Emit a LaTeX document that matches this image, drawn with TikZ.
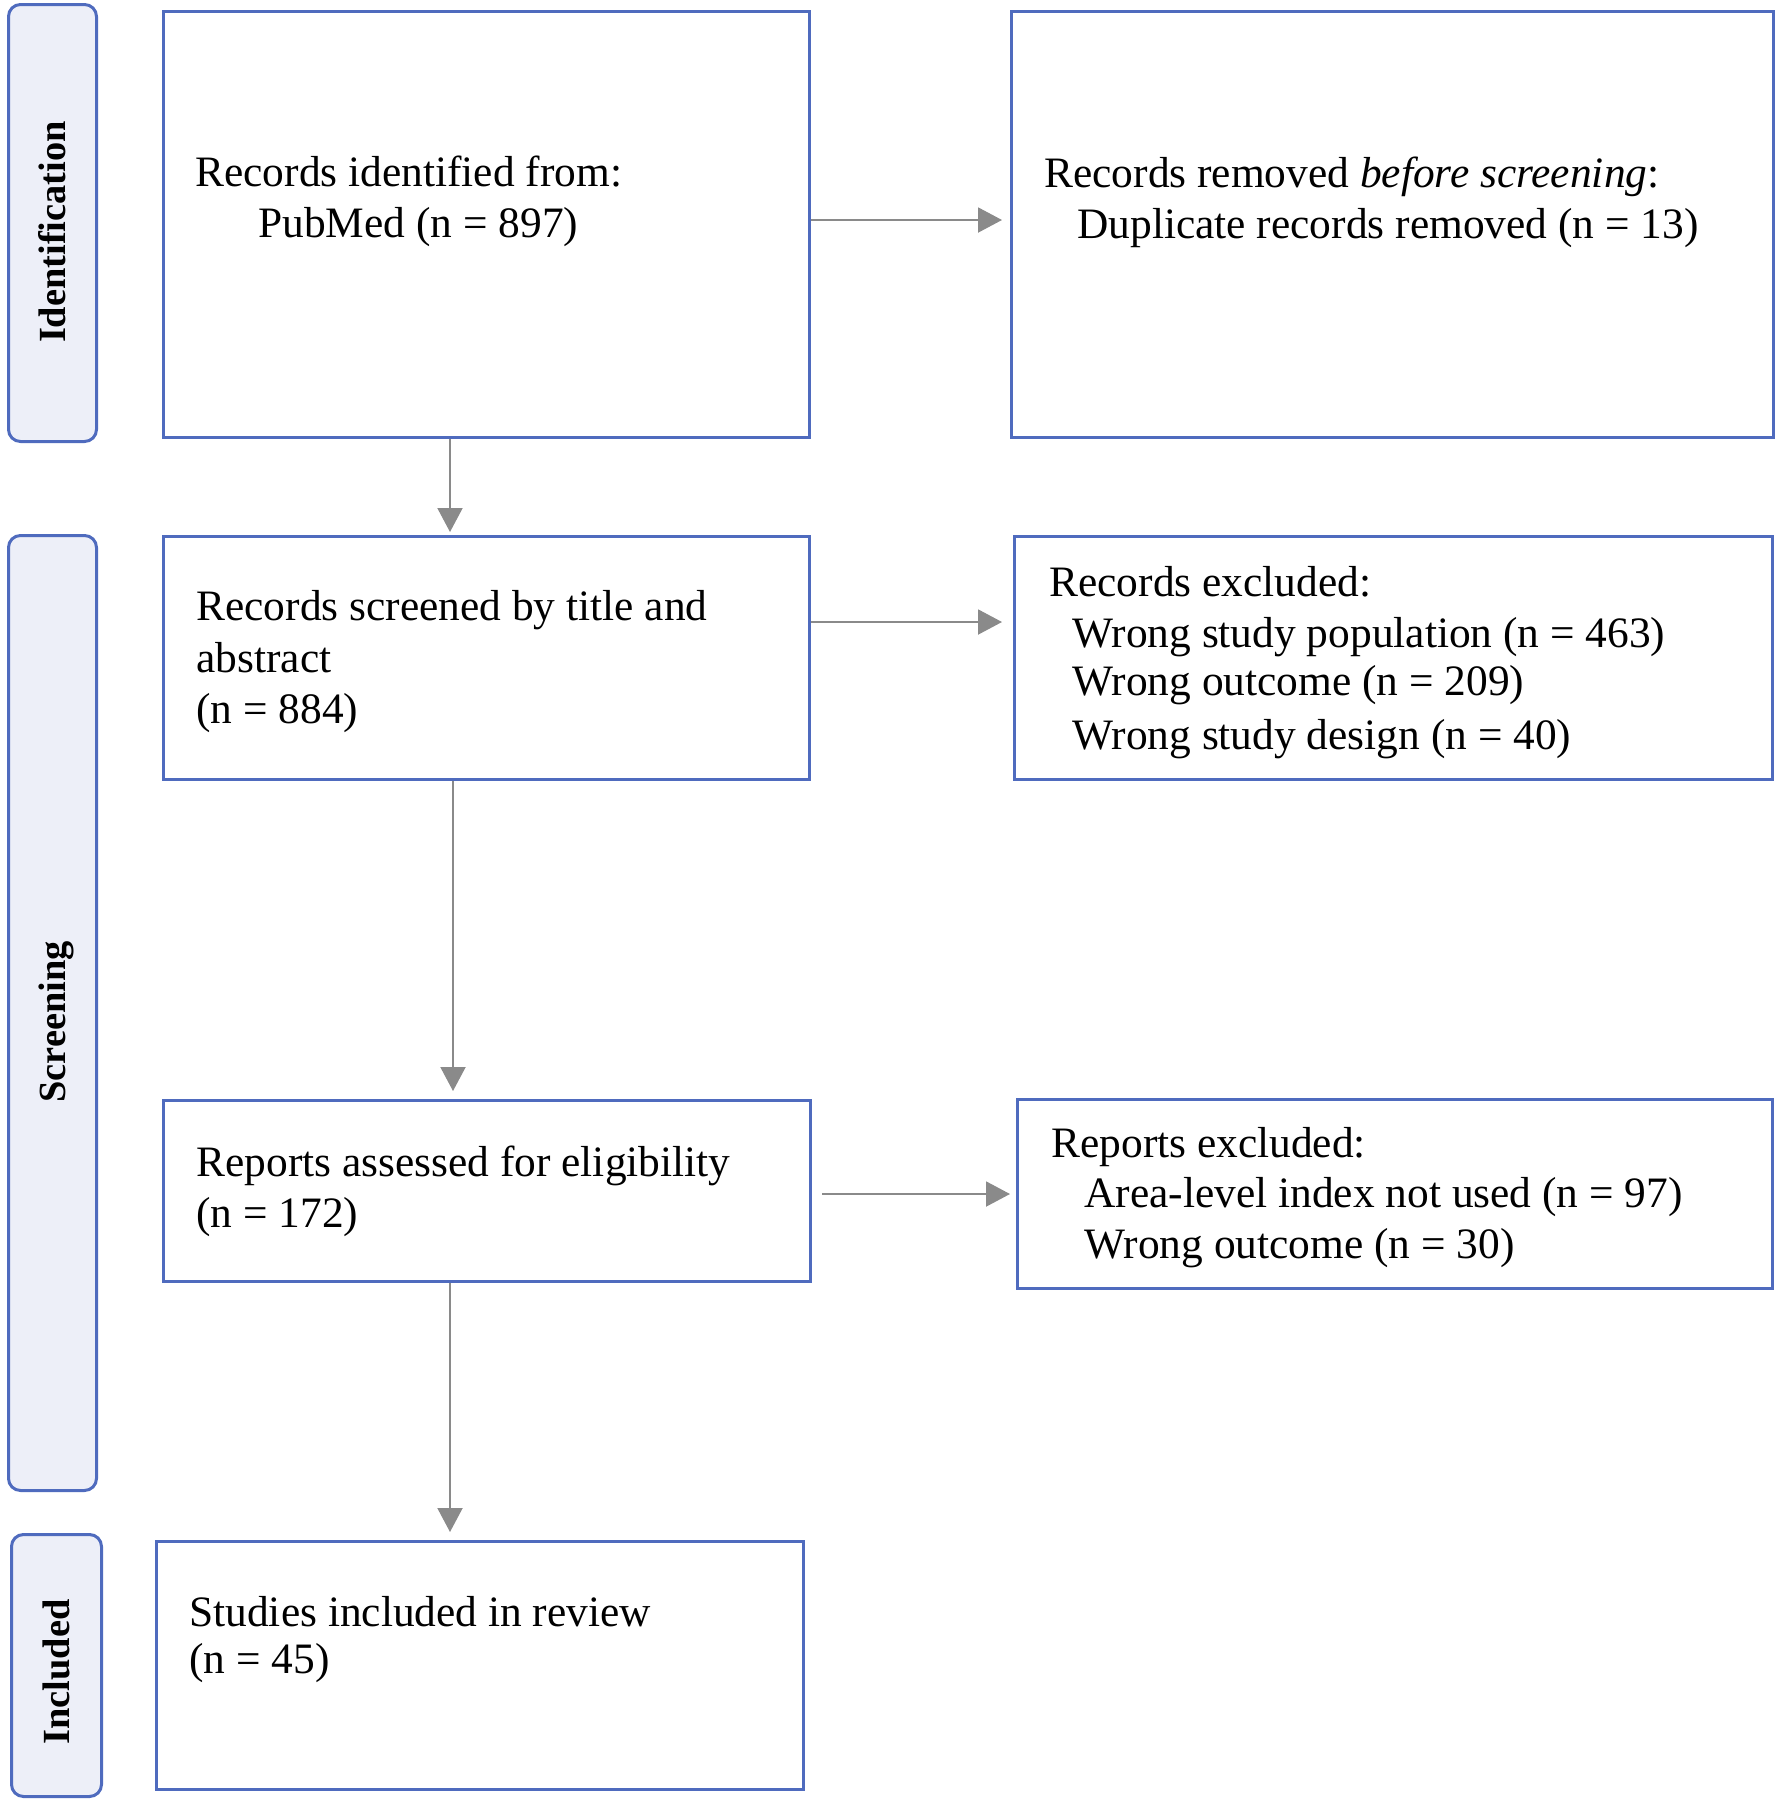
\documentclass[tikz,border=0pt]{standalone}
\usepackage{fontspec}
\setmainfont{Liberation Serif}
\usetikzlibrary{arrows.meta}
\definecolor{boxblue}{HTML}{4F6BBE}
\definecolor{sidefill}{HTML}{EDEFF8}
\definecolor{arrgray}{HTML}{8A8A8A}
\begin{document}
\begin{tikzpicture}[x=0.5pt,y=-0.5pt,
  box/.style={draw=boxblue,line width=1.5pt,fill=white,anchor=north west,inner sep=0pt},
  side/.style={draw=boxblue,line width=1.5pt,fill=sidefill,rounded corners=6pt,anchor=north west,inner sep=0pt},
  txt/.style={anchor=base west,inner sep=0pt,font=\fontsize{21.7}{26}\selectfont},
  lbl/.style={anchor=base,rotate=90,inner sep=0pt,font=\fontsize{19.2}{23}\selectfont\bfseries},
  arr/.style={draw=arrgray,line width=1pt,-{Triangle[length=12pt,width=12.5pt]}}]
\useasboundingbox (0,0) rectangle (1774,1800);
% side bars
\node[side,minimum width=44pt,minimum height=218.5pt] (sid) at (7,3) {};
\node[side,minimum width=44pt,minimum height=477.5pt] (sscr) at (7,534) {};
\node[side,minimum width=45pt,minimum height=131pt] (sinc) at (10,1533) {};
\node[lbl] (lid) at (65,232) {Identification};
\node[lbl] (lscr) at (65,1022) {Screening};
\node[lbl] (linc) at (69,1672) {Included};
% boxes
\node[box,minimum width=323pt,minimum height=213pt] (b1) at (162,10) {};
\node[box,minimum width=381pt,minimum height=213pt] (b2) at (1010,10) {};
\node[box,minimum width=323pt,minimum height=121.5pt] (b3) at (162,535) {};
\node[box,minimum width=379pt,minimum height=121.5pt] (b4) at (1013,535) {};
\node[box,minimum width=323.5pt,minimum height=90.5pt] (b5) at (162,1099) {};
\node[box,minimum width=377.5pt,minimum height=94.5pt] (b6) at (1016,1098) {};
\node[box,minimum width=323.5pt,minimum height=124pt] (b7) at (155,1540) {};
% texts
\node[txt] (t1a) at (195,186) {Records identified from:};
\node[txt] (t1b) at (258,237) {PubMed (n = 897)};
\node[txt] (t2a) at (1044,187) {Records removed \textit{before screening}:};
\node[txt] (t2b) at (1077,238) {Duplicate records removed (n = 13)};
\node[txt] (t3a) at (196,620) {Records screened by title and};
\node[txt] (t3b) at (196,672) {abstract};
\node[txt] (t3c) at (196,723) {(n = 884)};
\node[txt] (t4a) at (1049,596) {Records excluded:};
\node[txt] (t4b) at (1072,647) {Wrong study population (n = 463)};
\node[txt] (t4c) at (1072,695) {Wrong outcome (n = 209)};
\node[txt] (t4d) at (1072,749) {Wrong study design (n = 40)};
\node[txt] (t5a) at (196,1176) {Reports assessed for eligibility};
\node[txt] (t5b) at (196,1227) {(n = 172)};
\node[txt] (t6a) at (1051,1157) {Reports excluded:};
\node[txt] (t6b) at (1084,1207) {Area-level index not used (n = 97)};
\node[txt] (t6c) at (1084,1258) {Wrong outcome (n = 30)};
\node[txt] (t7a) at (189,1626) {Studies included in review};
\node[txt] (t7b) at (189,1673) {(n = 45)};
% connectors
\coordinate (c1) at (450,0);
\coordinate (c2) at (0,220);
\coordinate (c3) at (0,622);
\coordinate (c4) at (453,0);
\coordinate (c5) at (0,1194);
\coordinate (c6) at (450,0);
\draw[arr,shorten >=1.5pt] (b1.south -| c1) -- (b3.north -| c1);
\draw[arr,shorten >=4pt] (b1.east |- c2) -- (b2.west |- c2);
\draw[arr,shorten >=5.5pt] (b3.east |- c3) -- (b4.west |- c3);
\draw[arr,shorten >=4pt] (b3.south -| c4) -- (b5.north -| c4);
\draw[arr,shorten <=5pt,shorten >=3pt] (b5.east |- c5) -- (b6.west |- c5);
\draw[arr,shorten >=4pt] (b5.south -| c6) -- (b7.north -| c6);
\end{tikzpicture}
\end{document}
